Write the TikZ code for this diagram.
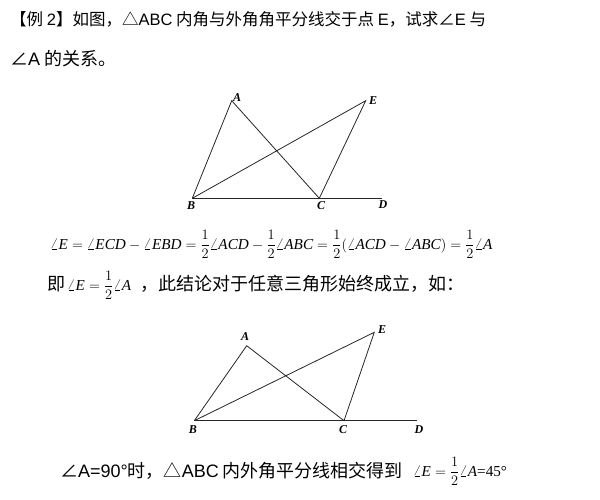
\documentclass[tikz,border=0pt]{standalone}
\usepackage{fontspec}
\usepackage{amsmath}
\setmainfont{Liberation Serif}
\newfontfamily\cjk{Noto Sans CJK SC}
\newfontfamily\lsans{Liberation Sans}
\newcommand\I[1]{\mbox{\itshape #1}}
\newcommand\hf{\dfrac{1}{2}}
\begin{document}
\begin{tikzpicture}[x=1pt,y=-1pt,
  txt/.style={anchor=base west,inner sep=0pt,font=\fontsize{16.5}{18}\selectfont},
  txtb/.style={anchor=base west,inner sep=0pt,font=\fontsize{18}{20}\selectfont},
  mth/.style={anchor=base west,inner sep=0pt,font=\fontsize{15.2}{17}\selectfont},
  lbl/.style={inner sep=0.5pt,font=\fontsize{12}{14}\selectfont\bfseries\itshape},
  seg/.style={line width=0.8pt,black!85}]
\useasboundingbox (0,0) rectangle (600,499);
% text lines
\node[txt] (t1) at (10,25) {\cjk 【例 {\lsans 2}】如图，△{\lsans ABC} 内角与外角角平分线交于点 {\lsans E}，试求∠{\lsans E} 与};
\node[txtb] (t2) at (10,65) {\cjk ∠{\lsans A} 的关系。};
\node[mth] (eq) at (50,249) {$\angle\I{E}=\angle\I{ECD}-\angle\I{EBD}=\hf\angle\I{ACD}-\hf\angle\I{ABC}=\hf(\angle\I{ACD}-\angle\I{ABC})=\hf\angle\I{A}$};
\node[txtb] (t3a) at (47,290) {\cjk 即};
\node[mth] (t3b) at (67,290) {$\angle\I{E}=\hf\angle\I{A}$};
\node[txtb] (t3c) at (140,290) {\cjk ，此结论对于任意三角形始终成立，如：};
\node[txtb] (t4a) at (60,477) {\cjk ∠{\lsans A=90°}时，△{\lsans ABC} 内外角平分线相交得到};
\node[mth] (t4b) at (413,476) {$\angle\I{E}=\hf\angle\I{A}\text{=45°}$};
% figure 1
\coordinate (A1) at (231.7,100.7);
\coordinate (E1) at (365.7,100.7);
\coordinate (B1) at (192.3,198.3);
\coordinate (C1) at (319.3,198.3);
\coordinate (D1) at (381.7,198.3);
\draw[seg] (B1) -- (A1) -- (C1) -- (E1) -- (B1);
\draw[seg] (B1) -- (D1);
\node[lbl] (lA1) at (237,98) {A};
\node[lbl] (lE1) at (373,101) {E};
\node[lbl] (lB1) at (191,206) {B};
\node[lbl] (lC1) at (321,206) {C};
\node[lbl] (lD1) at (383,205) {D};
% figure 2
\coordinate (A2) at (246.7,345.7);
\coordinate (E2) at (374.3,332.3);
\coordinate (B2) at (194.3,420.7);
\coordinate (C2) at (344,420.7);
\coordinate (D2) at (416.7,420.7);
\draw[seg] (B2) -- (A2) -- (C2) -- (E2) -- (B2);
\draw[seg] (B2) -- (D2);
\node[lbl] (lA2) at (245,337) {A};
\node[lbl] (lE2) at (382,330) {E};
\node[lbl] (lB2) at (193,430) {B};
\node[lbl] (lC2) at (343,430) {C};
\node[lbl] (lD2) at (419,430) {D};
\end{tikzpicture}
\end{document}
